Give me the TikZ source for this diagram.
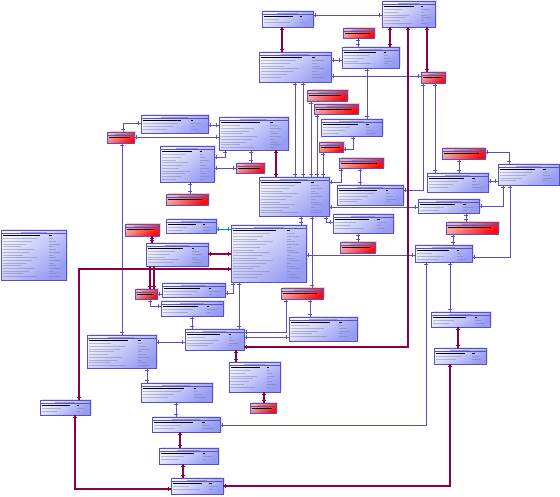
\documentclass[tikz,border=0pt]{standalone}
\usetikzlibrary{decorations.markings}
\definecolor{lnk}{RGB}{90,80,190}
\definecolor{mrn}{RGB}{140,0,70}
\definecolor{tea}{RGB}{20,130,190}
\definecolor{bfa}{RGB}{240,242,255}
\definecolor{bfb}{RGB}{150,156,242}
\definecolor{rfa}{RGB}{246,176,176}
\definecolor{rfb}{RGB}{255,10,10}
\definecolor{bsh}{RGB}{222,226,255}
\definecolor{rsh}{RGB}{250,200,200}
\definecolor{rowc}{RGB}{118,118,160}
\tikzset{
  tblbox/.style={draw=lnk, line width=1pt, inner sep=0pt, outer sep=0pt, rectangle},
  btab/.style={tblbox, top color=bfa, bottom color=bfb, shading angle=40},
  rtab/.style={tblbox, top color=rfa, bottom color=rfb, shading angle=40},
  ttl/.style={draw=rowc, line width=0.7pt, opacity=0.6},
  rowline/.style={draw=rowc, line width=0.6pt, opacity=0.45},
  conn/.style={line width=1pt, postaction={decorate, decoration={markings,
     mark=at position 2.3pt with {\draw[line width=0.9pt] (0pt,-1.8pt) -- (0pt,1.8pt);},
     mark=at position -2.3pt with {\draw[line width=0.9pt] (0pt,-1.8pt) -- (0pt,1.8pt);}}}},
  bl/.style={conn, color=lnk},
  mr/.style={conn, color=mrn, line width=1.1pt},
  tl/.style={conn, color=tea},
}
% #1 kind (b/r), #2 name, #3 x1, #4 y1, #5 x2, #6 y2
\newcommand\tbl[6]{%
  \pgfmathsetmacro\tw{#5-#3}%
  \pgfmathsetmacro\th{#6-#4}%
  \fill[#1sh] (#3+2,#4-1.5) rectangle (#5+2,#6-1.5);
  \node[#1tab, minimum width=\tw pt, minimum height=\th pt, anchor=north west] (#2) at (#3,#4) {};
  \draw[ttl] ({#3+0.3*\tw},#4+1.9) -- ({#5-0.3*\tw},#4+1.9);
  \draw[lnk, line width=0.5pt] (#3,#4+3.7) -- (#5,#4+3.7);
  \if b#1
    \draw[black, line width=1.2pt] (#3+1.5,#4+5.7) -- ({#3+0.6*\tw},#4+5.7);
    \draw[black, line width=1.2pt] ({#3+0.74*\tw},#4+5.7) -- ({#3+0.78*\tw},#4+5.7);
    \pgfmathtruncatemacro\nr{(\th-8.5)/2.7}%
    \ifnum\nr>0
    \foreach \i in {1,...,\nr} {
      \pgfmathsetmacro\yy{#4+5.9+\i*2.7}%
      \pgfmathsetmacro\ll{0.3+0.3*mod(\i*5+#3,7)/7}%
      \pgfmathsetmacro\lt{0.8+0.1*mod(\i+#4,3)/2}%
      \draw[rowline] (#3+2,\yy) -- ({#3+\ll*\tw},\yy);
      \draw[rowline] ({#3+0.74*\tw},\yy) -- ({#3+\lt*\tw},\yy);
    }
    \fi
  \else
    \draw[black, line width=1.2pt] (#3+1.5,#4+5.6) -- ({#3+0.86*\tw},#4+5.6);
  \fi
}
\begin{document}
\begin{tikzpicture}[x=1pt,y=-1pt]
\fill[white] (0,0) rectangle (560,496);
\useasboundingbox (0,0) rectangle (560,496);
% ---------- blue tables ----------
\tbl{b}{T1}{382}{1}{435}{27}
\tbl{b}{T2}{262}{11}{313}{27}
\tbl{b}{T3}{259}{52}{331}{82}
\tbl{b}{T4}{342}{47}{399}{68}
\tbl{b}{T5}{321}{119}{382}{136}
\tbl{b}{T6}{141}{115}{208}{133}
\tbl{b}{T7}{219}{117}{288}{150}
\tbl{b}{T8}{160}{146}{214}{182}
\tbl{b}{T9}{259}{177}{329}{216}
\tbl{b}{T10}{231}{225}{306}{282}
\tbl{b}{T11}{166}{219}{216}{233}
\tbl{b}{T12}{146}{243}{208}{266}
\tbl{b}{T13}{162}{283}{225}{297}
\tbl{b}{T14}{161}{301}{223}{316}
\tbl{b}{T15}{289}{317}{357}{341}
\tbl{b}{T16}{1}{230}{66}{280}
\tbl{b}{T17}{418}{199}{479}{213}
\tbl{b}{T18}{415}{245}{472}{262}
\tbl{b}{T19}{427}{173}{488}{192}
\tbl{b}{T20}{498}{164}{559}{185}
\tbl{b}{T21}{431}{312}{490}{327}
\tbl{b}{T22}{434}{348}{486}{364}
\tbl{b}{T23}{87}{335}{156}{368}
\tbl{b}{T24}{185}{329}{244}{350}
\tbl{b}{T25}{229}{362}{280}{392}
\tbl{b}{T26}{141}{383}{212}{402}
\tbl{b}{T27}{40}{400}{90}{415}
\tbl{b}{T28}{152}{417}{220}{432}
\tbl{b}{T29}{159}{448}{218}{464}
\tbl{b}{T30}{171}{478}{223}{494}
\tbl{b}{T31}{337}{185}{403}{205}
\tbl{b}{T32}{333}{214}{393}{233}
% ---------- red tables ----------
\tbl{r}{R1}{343}{28}{374}{38}
\tbl{r}{R2}{421}{72}{445}{83}
\tbl{r}{R3}{307}{90}{347}{101}
\tbl{r}{R4}{314}{104}{358}{114}
\tbl{r}{R5}{319}{142}{343}{152}
\tbl{r}{R6}{339}{158}{383}{168}
\tbl{r}{R7}{107}{132}{134}{143}
\tbl{r}{R8}{236}{163}{264}{173}
\tbl{r}{R9}{166}{194}{208}{205}
\tbl{r}{R10}{125}{224}{159}{236}
\tbl{r}{R11}{135}{289}{157}{299}
\tbl{r}{R12}{281}{288}{323}{299}
\tbl{r}{R13}{446}{222}{498}{234}
\tbl{r}{R14}{250}{403}{276}{413}
\tbl{r}{R15}{340}{242}{375}{253}
\tbl{r}{R16}{442}{148}{485}{159}
% ---------- blue connectors ----------
\draw[bl] (T2.east |- 0,15) -- (T1.west |- 0,15);
\draw[bl] (T3.east |- 0,60) -- (T4.west |- 0,60);
\draw[bl] (R1.south -| 358,0) -- (T4.north -| 358,0);
\draw[bl] (T3.east |- 0,76) -- (R2.west |- 0,76);
\draw[bl] (T4.south -| 367,0) -- (T5.north -| 367,0);
\draw[bl] (T5.south -| 353,0) |- (R5.east |- 0,149);
\draw[bl] (T3.south -| 295,0) -- (T9.north -| 295,0);
\draw[bl] (T3.south -| 303,0) -- (T9.north -| 303,0);
\draw[bl] (R3.south -| 311,0) -- (T9.north -| 311,0);
\draw[bl] (R4.south -| 317,0) -- (T9.north -| 317,0);
\draw[bl] (R5.south -| 323,0) -- (T9.north -| 323,0);
\draw[bl] (R6.south -| 341,0) |- (T9.east |- 0,182);
\draw[bl] (R6.south -| 360,0) -- (T31.north -| 360,0);
\draw[bl] (R2.south -| 423,0) |- (T31.east |- 0,190);
\draw[bl] (R2.south -| 435,0) -- (T19.north -| 435,0);
\draw[bl] (R16.south -| 459,0) -- (T19.north -| 459,0);
\draw[bl] (R16.east |- 0,152) -| (T20.north -| 509,0);
\draw[bl] (T19.east |- 0,181) -- (T20.west |- 0,181);
\draw[bl] (T20.south -| 503,0) |- (T17.east |- 0,206);
\draw[bl] (T20.south -| 510,0) |- (T18.east |- 0,257);
\draw[bl] (T9.east |- 0,207) -- (T17.west |- 0,207);
\draw[bl] (T17.south -| 466,0) -- (R13.north -| 466,0);
\draw[bl] (R13.south -| 453,0) -- (T18.north -| 453,0);
\draw[bl] (T18.south -| 450,0) -- (T21.north -| 450,0);
\draw[bl] (T18.south -| 426,0) |- (T28.east |- 0,425);
\draw[bl] (T9.south -| 326,0) |- (T32.west |- 0,222);
\draw[bl] (T32.south -| 358,0) -- (R15.north -| 358,0);
\draw[bl] (T9.south -| 301,0) -- (T10.north -| 301,0);
\draw[bl] (T9.south -| 312,0) -- (R12.north -| 312,0);
\draw[bl] (T10.east |- 0,255) -- (T18.west |- 0,255);
\draw[bl] (R12.south -| 310,0) -- (T15.north -| 310,0);
\draw[bl] (R12.south -| 286,0) |- (T24.east |- 0,332);
\draw[bl] (T24.east |- 0,337) -- (T15.west |- 0,337);
\draw[bl] (T10.south -| 239,0) -- (T24.north -| 239,0);
\draw[bl] (T10.south -| 233,0) |- (T13.east |- 0,293);
\draw[bl] (T14.south -| 192,0) -- (T24.north -| 192,0);
\draw[bl] (R11.south -| 150,0) |- (T14.west |- 0,306);
\draw[bl] (R11.east |- 0,294) -- (T13.west |- 0,294);
\draw[bl] (T6.east |- 0,125) -- (T7.west |- 0,125);
\draw[bl] (R7.north -| 123,0) |- (T6.west |- 0,123);
\draw[bl] (R7.east |- 0,137) -- (T7.west |- 0,137);
\draw[bl] (R7.south -| 122,0) -- (T23.north -| 122,0);
\draw[bl] (T7.south -| 225,0) |- (T8.east |- 0,157);
\draw[bl] (T8.east |- 0,168) -- (R8.west |- 0,168);
\draw[bl] (T7.south -| 251,0) -- (R8.north -| 251,0);
\draw[bl] (T8.south -| 190,0) -- (R9.north -| 190,0);
\draw[bl] (T23.east |- 0,342) -- (T24.west |- 0,342);
\draw[bl] (T23.south -| 147,0) -- (T26.north -| 147,0);
\draw[bl] (T26.south -| 176,0) -- (T28.north -| 176,0);
% ---------- teal connector ----------
\draw[tl] (T11.east |- 0,229) -- (T10.west |- 0,229);
% ---------- maroon connectors ----------
\draw[mr] (T2.south -| 282,0) -- (T3.north -| 282,0);
\draw[mr] (T1.south -| 390,0) -- (T4.north -| 390,0);
\draw[mr] (T1.south -| 427,0) -- (R2.north -| 427,0);
\draw[mr] (T1.south -| 408,0) |- (T24.east |- 0,347);
\draw[mr] (T7.south -| 276,0) -- (T9.north -| 276,0);
\draw[mr] (T12.east |- 0,254) -- (T10.west |- 0,254);
\draw[mr] (T27.north -| 79,0) |- (T10.west |- 0,269);
\draw[mr] (T12.south -| 150,0) -- (R11.north -| 150,0);
\draw[mr] (T12.south -| 154,0) -- (R11.north -| 154,0);
\draw[mr] (R10.south -| 152,0) -- (T12.north -| 152,0);
\draw[mr] (T24.south -| 236,0) -- (T25.north -| 236,0);
\draw[mr] (T25.south -| 264,0) -- (R14.north -| 264,0);
\draw[mr] (T28.south -| 180,0) -- (T29.north -| 180,0);
\draw[mr] (T29.south -| 183,0) -- (T30.north -| 183,0);
\draw[mr] (T27.south -| 75,0) |- (T30.west |- 0,489);
\draw[mr] (T22.south -| 450,0) |- (T30.east |- 0,486);
\draw[mr] (T21.south -| 458,0) -- (T22.north -| 458,0);
\end{tikzpicture}
\end{document}
